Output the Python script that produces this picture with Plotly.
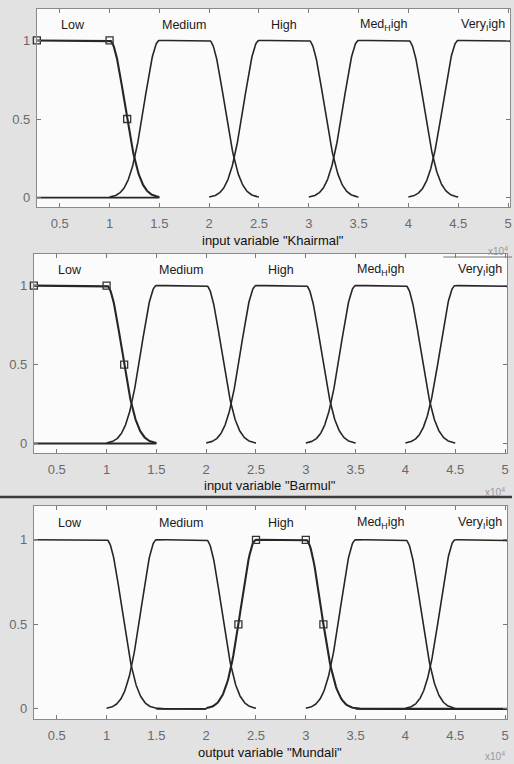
import numpy as np
import plotly.graph_objects as go

# ---- data (x in units of 10^4) ----
MF_NAMES = ["Low", "Medium", "High", "Med<sub>H</sub>igh", "Very<sub>I</sub>igh"]
# plateau start / end of each membership function (gauss2mf centres c1, c2)
PLATEAU_START = [0.27, 1.5, 2.5, 3.5, 4.5]
PLATEAU_END = [1.0, 2.0, 3.0, 4.0, 5.0]
SIGMA = 0.15  # gauss2mf spread

VAR_TITLES = ['input variable "Khairmal"', 'input variable "Barmul"', 'output variable "Mundali"']
X_RANGE = [0.27, 5.02]
Y_RANGE = [-0.06, 1.2]
X_TICKS = [0.5, 1, 1.5, 2, 2.5, 3, 3.5, 4, 4.5, 5]
X_TICKTEXT = ["0.5", "1", "1.5", "2", "2.5", "3", "3.5", "4", "4.5", "5"]
Y_TICKS = [0, 0.5, 1]
Y_TICKTEXT = ["0", "0.5", "1"]

# visible span of each MF curve per plot
DRAW_FROM = [[0.27, 1.0, 2.0, 3.0, 4.0],
             [0.27, 1.0, 2.0, 3.0, 4.0],
             [0.27, 1.0, 2.0, 3.0, 4.0]]
DRAW_TO = [[1.5, 2.5, 3.5, 4.5, 5.02],
           [1.5, 2.5, 3.5, 4.5, 5.02],
           [2.0, 2.5, 5.02, 4.5, 5.02]]
ZERO_SPANS = [[(0.27, 1.5)], [(0.27, 1.5)], [(1.5, 2.0), (3.5, 5.02)]]
SELECTED = [0, 0, 2]  # MF highlighted with markers in each plot

# ---- layout geometry (pixels) ----
W, H = 514, 764
X_PIX = [(37, 512), (34, 509), (34, 509)]
Y_PIX = [(9, 207), (254, 453), (506, 719)]
XTITLE_PIX = [240, 485, 752]
EXP_PIX = [251, 492, 756]


def gauss2mf(x, c1, c2, s):
    y = np.ones_like(x)
    left = x < c1
    right = x > c2
    y[left] = np.exp(-((x[left] - c1) ** 2) / (2 * s * s))
    y[right] = np.exp(-((x[right] - c2) ** 2) / (2 * s * s))
    return y


fig = go.Figure()
line_col = "#262626"
annotations = []

for p in range(3):
    ax = "" if p == 0 else str(p + 1)
    xa, ya = "x" + ax, "y" + ax
    for (a, b) in ZERO_SPANS[p]:
        fig.add_trace(go.Scatter(x=[a, b], y=[0, 0], mode="lines", xaxis=xa, yaxis=ya,
                                 line=dict(color=line_col, width=1.8), showlegend=False,
                                 hoverinfo="skip"))
    for i in range(5):
        xs = np.linspace(DRAW_FROM[p][i], DRAW_TO[p][i], 300)
        ys = gauss2mf(xs, PLATEAU_START[i], PLATEAU_END[i], SIGMA)
        w = 2.1 if i == SELECTED[p] else 1.6
        fig.add_trace(go.Scatter(x=xs, y=ys, mode="lines", xaxis=xa, yaxis=ya,
                                 line=dict(color=line_col, width=w), showlegend=False,
                                 hoverinfo="skip"))
        annotations.append(dict(x=(PLATEAU_START[i] + min(PLATEAU_END[i], 5.0)) / 2, y=1.1,
                                xref=xa, yref=ya, text=MF_NAMES[i], showarrow=False,
                                xanchor="center", yanchor="middle",
                                font=dict(size=12.5, color="#1a1a1a", family="Liberation Sans")))
    # parameter markers of selected MF
    s = SELECTED[p]
    c1, c2 = PLATEAU_START[s], PLATEAU_END[s]
    mx = [c1 - 1.1774 * SIGMA, c1, c2, c2 + 1.1774 * SIGMA]
    mx = [v for v in mx if X_RANGE[0] <= v <= X_RANGE[1]]
    my = list(gauss2mf(np.array(mx), c1, c2, SIGMA))
    fig.add_trace(go.Scatter(x=mx, y=my, mode="markers", xaxis=xa, yaxis=ya,
                             marker=dict(symbol="square-open", size=7, color="#333",
                                         line=dict(width=1.3)),
                             showlegend=False, hoverinfo="skip", cliponaxis=False))

    x0, x1 = X_PIX[p]
    y0, y1 = Y_PIX[p]
    common = dict(showline=True, linecolor="#8a8a8a", linewidth=1, mirror="ticks",
                  ticks="inside", ticklen=4, tickcolor="#777", showgrid=False,
                  zeroline=False, tickfont=dict(size=13, color="#6a6a6a", family="Liberation Sans"))
    fig.layout["xaxis" + ax] = dict(domain=[x0 / W, x1 / W], range=X_RANGE, anchor=ya,
                                    tickvals=X_TICKS, ticktext=X_TICKTEXT,
                                    ticklabelstandoff=4, **common)
    fig.layout["yaxis" + ax] = dict(domain=[1 - y1 / H, 1 - y0 / H], range=Y_RANGE, anchor=xa,
                                    tickvals=Y_TICKS, ticktext=Y_TICKTEXT,
                                    ticklabelstandoff=3, **common)
    annotations.append(dict(x=(x0 + x1) / 2 / W, y=1 - XTITLE_PIX[p] / H, xref="paper",
                            yref="paper", text=VAR_TITLES[p], showarrow=False,
                            xanchor="center", yanchor="middle",
                            font=dict(size=13, color="#111", family="Liberation Sans")))
    annotations.append(dict(x=x1 / W, y=1 - EXP_PIX[p] / H, xref="paper",
                            yref="paper", text="x10<sup>4</sup>", showarrow=False,
                            xanchor="right", yanchor="middle",
                            font=dict(size=10, color="#999", family="Liberation Sans")))

shapes = [
    dict(type="line", xref="paper", yref="paper", x0=0, x1=1, y0=1 - 497 / H, y1=1 - 497 / H,
         line=dict(color="#3a3a3a", width=2.5)),
    dict(type="line", xref="paper", yref="paper", x0=445 / W, x1=1, y0=1 - 257 / H,
         y1=1 - 257 / H, line=dict(color="#777", width=1)),
]

fig.update_layout(width=W, height=H, margin=dict(l=0, r=0, t=0, b=0),
                  paper_bgcolor="#e2e2e2", plot_bgcolor="#fbfbfb",
                  annotations=annotations, shapes=shapes, showlegend=False)

fig.write_html("out.html", config={"displayModeBar": False},
               post_script="document.body.style.margin='0px';document.body.style.background='#e2e2e2';")
